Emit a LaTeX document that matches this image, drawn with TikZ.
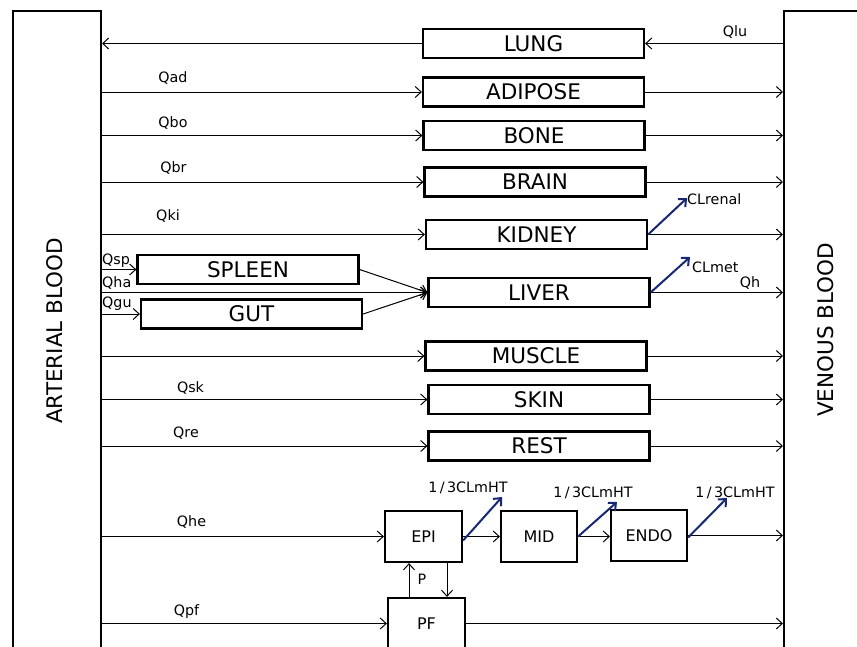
\documentclass[tikz,border=0pt]{standalone}
\usepackage{fontspec}
\setmainfont{DejaVu Sans}
\usetikzlibrary{arrows.meta}
\definecolor{clrblue}{RGB}{22,40,115}
\newcommand{\bigfnt}{\fontsize{21.5}{24}\selectfont}
\newcommand{\midfnt}{\fontsize{16}{19}\selectfont}
\newcommand{\lblfnt}{\fontsize{14.3}{16}\selectfont}
\tikzset{
  blood/.style={draw, line width=2pt, anchor=north west, minimum width=88pt, minimum height=700pt, inner sep=0pt},
  organ/.style={draw, line width=2.2pt, minimum width=221pt, minimum height=29pt, inner sep=0pt, font=\bigfnt},
  heartbox/.style={draw, line width=2.2pt, minimum width=77pt, minimum height=51pt, inner sep=0pt, font=\midfnt},
  flow/.style={-{Straight Barb[length=6pt,width=11pt]}, line width=1pt},
  clr/.style={-{Straight Barb[length=6pt,width=11pt]}, line width=2pt, draw=clrblue},
  lbl/.style={font=\lblfnt, inner sep=0pt},
  bloodlbl/.style={font=\bigfnt, rotate=90, inner sep=0pt}
}
\begin{document}
\begin{tikzpicture}[x=1pt,y=-1pt]
\useasboundingbox (0,0) rectangle (857,646);
\clip (0,0) rectangle (857,646);
\fill[white] (0,0) rectangle (857,646);
% blood compartments
\node[blood] (art) at (12,10) {};
\node[blood] (ven) at (783,10) {};
\node[bloodlbl] (artlbl) at (55,331) {ARTERIAL BLOOD};
\node[bloodlbl] (venlbl) at (826,330) {VENOUS BLOOD};
% organs
\node[organ] (lung) at (533.5,43.5) {LUNG};
\node[organ] (adipose) at (533.5,92) {ADIPOSE};
\node[organ] (bone) at (534,135.5) {BONE};
\node[organ] (brain) at (535,182) {BRAIN};
\node[organ] (kidney) at (536.5,234.5) {KIDNEY};
\node[organ] (liver) at (539,292.5) {LIVER};
\node[organ] (spleen) at (248,269.5) {SPLEEN};
\node[organ] (gut) at (251.5,314) {GUT};
\node[organ] (muscle) at (536,356) {MUSCLE};
\node[organ] (skin) at (539,399.5) {SKIN};
\node[organ] (rest) at (539,446) {REST};
% heart
\node[heartbox] (epi) at (423.5,536.5) {EPI};
\node[heartbox, minimum width=76pt] (mid) at (539,536.5) {MID};
\node[heartbox, minimum width=76pt] (endo) at (649,535.5) {ENDO};
\node[heartbox] (pf) at (426.5,623.5) {PF};
% lung
\draw[flow] (ven.west |- lung.east) -- (lung.east);
\draw[flow] (lung.west) -- (art.east |- lung.west);
% simple organs
\foreach \o in {adipose,bone,brain,kidney,liver,muscle,skin,rest}{
  \draw[flow] (art.east |- \o.west) -- (\o.west);
  \draw[flow] (\o.east) -- (ven.west |- \o.east);
}
% spleen, gut
\draw[flow] (art.east |- spleen.west) -- (spleen.west);
\draw[flow] (art.east |- gut.west) -- (gut.west);
\draw[flow] (spleen.east) -- (liver.west);
\draw[flow] (gut.east) -- (liver.west);
\draw[flow] (art.east |- liver.west) -- (liver.west);
% heart flows
\draw[flow] (art.east |- epi.west) -- (epi.west);
\draw[flow] (art.east |- pf.west) -- (pf.west);
\draw[flow] (epi.east) -- (mid.west);
\draw[flow] (mid.east) -- (endo.west |- mid.east);
\draw[flow] (endo.east) -- (ven.west |- endo.east);
\draw[flow] (pf.east) -- (ven.west |- pf.east);
\draw[flow] ([xshift=-17.5pt]pf.north) -- ([xshift=-17.5pt]pf.north |- epi.south);
\draw[flow] ([xshift=23.5pt]epi.south) -- ([xshift=23.5pt]epi.south |- pf.north);
% labels
\node[lbl] (qlu) at (735,32) {Qlu};
\node[lbl] (qad) at (173,78) {Qad};
\node[lbl] (qbo) at (173,123) {Qbo};
\node[lbl] (qbr) at (173.5,168) {Qbr};
\node[lbl] (qki) at (168,216) {Qki};
\node[lbl, anchor=west] (qsp) at (102,261) {Qsp};
\node[lbl, anchor=west] (qha) at (102,283) {Qha};
\node[lbl, anchor=west] (qgu) at (102,304) {Qgu};
\node[lbl] (qh) at (750,283) {Qh};
\node[lbl] (qsk) at (190.5,388) {Qsk};
\node[lbl] (qre) at (186,433) {Qre};
\node[lbl] (qhe) at (191.5,522) {Qhe};
\node[lbl] (qpf) at (186.5,612) {Qpf};
\node[lbl] (plbl) at (422,579) {P};
\node[lbl, anchor=west] (clrenal) at (687,199) {CLrenal};
\node[lbl, anchor=west] (clmet) at (692,267) {CLmet};
\node[lbl] (clepi) at (468,488) {1\,/\,3CLmHT};
\node[lbl] (clmid) at (593,493) {1\,/\,3CLmHT};
\node[lbl] (clendo) at (735,493) {1\,/\,3CLmHT};
% clearance arrows
\coordinate (kend) at (687,198);
\coordinate (lend) at (690,257);
\coordinate (eend) at (502,497);
\coordinate (mend) at (617,502);
\coordinate (nend) at (727,498);
\draw[clr] (kidney.east) -- (kend);
\draw[clr] (liver.east) -- (lend);
\draw[clr] ([yshift=-4pt]epi.east) -- (eend);
\draw[clr] (mid.east) -- (mend);
\draw[clr] ([yshift=-2pt]endo.east) -- (nend);
\end{tikzpicture}
\end{document}
